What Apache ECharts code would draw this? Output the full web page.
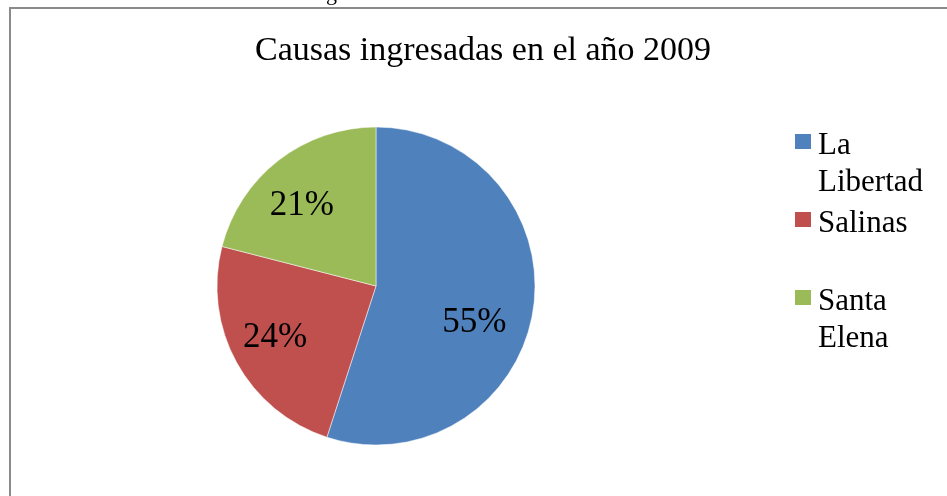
<!DOCTYPE html>
<html>
<head>
<meta charset="utf-8">
<script src="https://cdn.jsdelivr.net/npm/echarts@6/dist/echarts.min.js"></script>
<style>
  html, body { margin: 0; padding: 0; background: #fff; }
  #main { width: 947px; height: 496px; }
</style>
</head>
<body>
<div id="main"></div>
<script>
// datos
var categorias = ['La Libertad', 'Salinas', 'Santa Elena'];
var valores = [55, 24, 21];
var colores = ['#4f81bd', '#c0504d', '#9bbb59'];
var etiquetasLeyenda = ['La\nLibertad', 'Salinas\n', 'Santa\nElena'];

var chart = echarts.init(document.getElementById('main'));
var fuente = '"Liberation Serif", "Times New Roman", serif';

var datos = [];
for (var i = 0; i < categorias.length; i++) {
    datos.push({ name: categorias[i], value: valores[i], itemStyle: { color: colores[i] } });
}

var cx = 376, cy = 286;
// ajuste de las etiquetas (Excel no las pone en el centro exacto)
var ajusteX = [-3, 0, 4];
var ajusteY = [24, -8, 14];

chart.setOption({
    animation: false,
    title: {
        text: 'Causas ingresadas en el año 2009',
        left: 478,
        textAlign: 'center',
        top: 29,
        textStyle: { fontFamily: fuente, fontSize: 34, fontWeight: 'normal', color: '#000' }
    },
    legend: {
        orient: 'vertical',
        left: 795,
        top: 127,
        padding: 0,
        // cuadro alineado con la primera linea del texto
        icon: 'path://M0,0h0.01v0.01z M0,7h16v15h-16z M18,74h0.01v0.01z',
        itemWidth: 18,
        itemHeight: 74,
        itemGap: 4,
        itemStyle: { borderWidth: 0 },
        data: categorias,
        formatter: function (name) {
            return etiquetasLeyenda[categorias.indexOf(name)];
        },
        textStyle: {
            fontFamily: fuente, fontSize: 31, color: '#000', lineHeight: 37
        }
    },
    graphic: [
        {
            type: 'rect',
            shape: { x: 10, y: 8, width: 1200, height: 1200 },
            style: { fill: 'none', stroke: '#8a8a8a', lineWidth: 2 },
            silent: true
        },
        {
            type: 'text',
            left: 326,
            top: -17,
            style: { text: 'g', font: '22px ' + fuente, fill: '#000' },
            silent: true
        }
    ],
    series: [{
        type: 'pie',
        center: [cx, cy],
        radius: [0, 159],
        startAngle: 90,
        clockwise: true,
        data: datos,
        label: {
            show: true,
            position: 'inside',
            formatter: '{d}%',
            fontFamily: fuente,
            fontSize: 35,
            color: '#000'
        },
        labelLine: { show: false },
        labelLayout: function (p) {
            // empuja la etiqueta hacia afuera, como en Excel
            var lx = p.rect.x + p.rect.width / 2;
            var ly = p.rect.y + p.rect.height / 2;
            return { dx: (lx - cx) * 0.36 + ajusteX[p.dataIndex],
                     dy: (ly - cy) * 0.36 + ajusteY[p.dataIndex] };
        },
        itemStyle: { borderColor: '#fff', borderWidth: 0.5 },
        emphasis: { disabled: true }
    }]
});
</script>
</body>
</html>
